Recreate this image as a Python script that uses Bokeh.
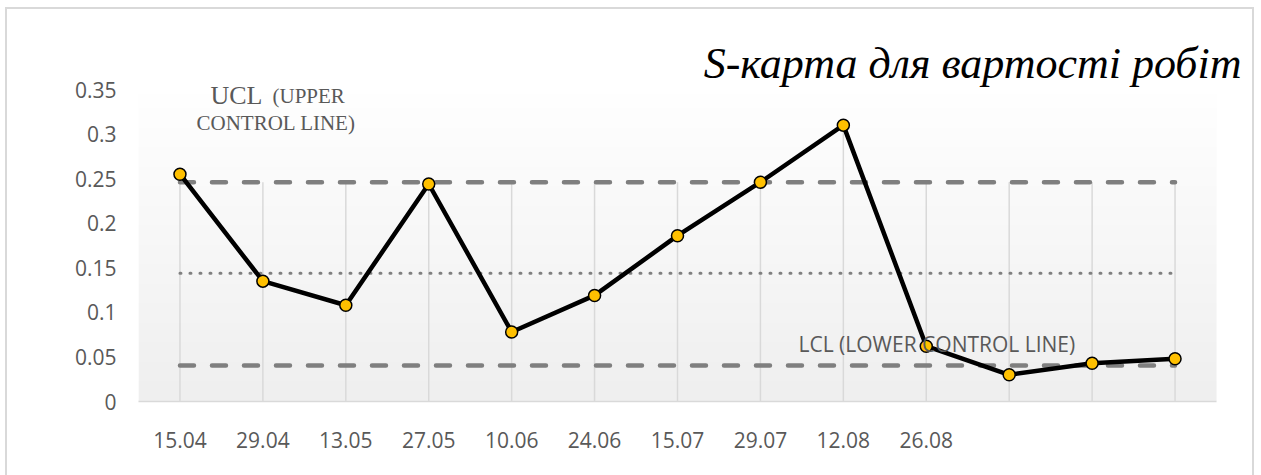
import numpy as np
from bokeh.plotting import figure
from bokeh.models import Range1d, FixedTicker, Label
from bokeh.embed import file_html
from bokeh.resources import INLINE

# ---- data -------------------------------------------------------------
dates = ["15.04", "29.04", "13.05", "27.05", "10.06", "24.06", "15.07",
         "29.07", "12.08", "26.08", "", "", ""]
s_values = [0.255, 0.135, 0.108, 0.244, 0.078, 0.119, 0.186,
            0.246, 0.310, 0.062, 0.030, 0.043, 0.048]
ucl = 0.246   # upper control line
cl = 0.144    # centre line
lcl = 0.0405  # lower control line
y_ticks = [0.0, 0.05, 0.1, 0.15, 0.2, 0.25, 0.3, 0.35]
y_tick_labels = ["0", "0.05", "0.1", "0.15", "0.2", "0.25", "0.3", "0.35"]

idx = list(range(len(dates)))
n_cat = len(dates)
y_max = y_ticks[-1]

# ---- layout constants ---------------------------------------------------
W, H = 1261, 475
PL, PR, PT, PB = 138, 1216, 89, 401   # plot area (gradient box) on the canvas
TXT = "#595959"
SANS = "Open Sans"
SERIF = "Liberation Serif"
BORDER = "#d9d9d9"

# The frame spans up to the top/right canvas edges so that the title and
# notes are not clipped; the ranges are widened to keep the plot area box.
px_per_cat = (PR - PL) / n_cat
x_end = -0.5 + (W - PL) / px_per_cat
y_end = y_max * (PB - 0) / (PB - PT)

# thin chart border drawn behind a transparent canvas
line = f"linear-gradient({BORDER},{BORDER})"
border_css = (f"{line} 5px 7px / 2px 100% no-repeat, "
              f"{line} 5px 7px / 1249px 2px no-repeat, "
              f"{line} 1252px 7px / 2px 100% no-repeat, white")

p = figure(width=W, height=H, output_backend="svg", toolbar_location=None,
           x_range=Range1d(-0.5, x_end), y_range=Range1d(0, y_end),
           min_border_left=PL, min_border_right=0,
           min_border_top=0, min_border_bottom=H - PB,
           styles={"background": border_css})
p.outline_line_color = None
p.xgrid.visible = False
p.ygrid.visible = False
p.background_fill_alpha = 0
p.border_fill_alpha = 0

# plot-area gradient: white at top to light grey at bottom
n = 64
t = np.linspace(0, 1, n)[:, None]            # 0 = bottom row, 1 = top row
lev = (239 + (255 - 239) * t).astype(np.uint32)
img = (255 << 24) | (lev << 16) | (lev << 8) | lev
p.image_rgba(image=[img.astype(np.uint32)], x=-0.5, y=0, dw=n_cat, dh=y_max)

# drop lines from the highest series value down to the axis
tops = [max(v, ucl) for v in s_values]
p.segment(x0=idx, y0=[0] * n_cat, x1=idx, y1=tops,
          line_color=BORDER, line_width=1.5)

# control lines
xs = [idx[0], idx[-1]]
p.line(xs, [ucl, ucl], line_color="#7f7f7f", line_width=4.5,
       line_dash="14 18", line_cap="round")
p.line(xs, [lcl, lcl], line_color="#7f7f7f", line_width=4.5,
       line_dash="14 18", line_cap="round")
p.line(xs, [cl, cl], line_color="#808080", line_width=3,
       line_dash="1 9", line_cap="round")

# S-series
p.line(idx, s_values, line_color="black", line_width=4.5, line_join="round")
p.scatter(idx, s_values, size=12, fill_color="#FFC000",
          line_color="black", line_width=1.5)

# axes
p.yaxis.ticker = FixedTicker(ticks=y_ticks)
p.yaxis.major_label_overrides = {t_: l_ for t_, l_ in zip(y_ticks, y_tick_labels)}
p.yaxis.axis_line_color = None
p.yaxis.major_tick_line_color = None
p.yaxis.minor_tick_line_color = None
p.yaxis.major_label_standoff = 16
p.yaxis.major_label_text_font = SANS
p.yaxis.major_label_text_font_size = "21px"
p.yaxis.major_label_text_color = TXT

p.xaxis.ticker = FixedTicker(ticks=idx)
p.xaxis.major_label_overrides = {i: d for i, d in zip(idx, dates)}
p.xaxis.bounds = (-0.5, n_cat - 0.5)
p.xaxis.axis_line_color = BORDER
p.xaxis.axis_line_width = 1.5
p.xaxis.major_tick_line_color = None
p.xaxis.minor_tick_line_color = None
p.xaxis.major_label_standoff = 24
p.xaxis.major_label_text_font = SANS
p.xaxis.major_label_text_font_size = "21px"
p.xaxis.major_label_text_color = TXT


def label(cx, cy, text, **kw):
    """Place a text label by canvas position (anchor at cy)."""
    p.add_layout(Label(x=cx - PL, y=PB - cy, x_units="screen", y_units="screen",
                       text=text, text_baseline="alphabetic", **kw))


label(1241, 63, "S-карта для вартості робіт", text_align="right",
      text_font=SERIF, text_font_style="italic", text_font_size="44px",
      text_color="black")
label(210, 95, "UCL", text_font=SERIF, text_font_size="26px", text_color=TXT)
label(272, 95, "(UPPER", text_font=SERIF, text_font_size="21px", text_color=TXT)
label(196, 122, "CONTROL LINE)", text_font=SERIF, text_font_size="21px",
      text_color=TXT)
label(798, 343, "LCL (LOWER CONTROL LINE)", text_font=SANS,
      text_font_size="21px", text_color=TXT)

open("out.html", "w").write(file_html(p, INLINE))
